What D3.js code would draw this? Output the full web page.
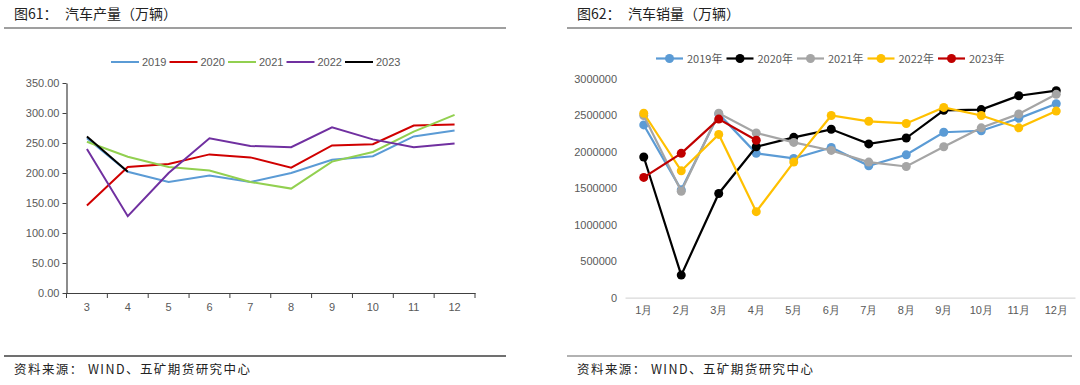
<!DOCTYPE html>
<html>
<head>
<meta charset="utf-8">
<script src="https://cdnjs.cloudflare.com/ajax/libs/d3/7.8.5/d3.min.js"></script>
<style>
  body { margin: 0; background: #fff; }
  svg { display: block; font-family: "Noto Sans CJK SC", "Noto Sans", sans-serif; }
</style>
</head>
<body>
<svg id="chart" width="1080" height="385"></svg>
<script>
// ---- data: production (万辆), months 3-12 ----
const prodMonths = ["3", "4", "5", "6", "7", "8", "9", "10", "11", "12"];
const prodYears = ["2019", "2020", "2021", "2022", "2023"];
const prod2019 = [258, 202, 185, 196, 185, 200, 222, 228, 261, 271];
const prod2020 = [146, 210, 215, 231, 226, 209, 246, 248, 279, 281];
const prod2021 = [252, 227, 210, 204, 185, 174, 219, 235, 269, 297];
const prod2022 = [240, 128, 200, 258, 245, 243, 276, 256, 243, 249];
const prod2023 = [261, 202];
const prodTicks = [0, 50, 100, 150, 200, 250, 300, 350];

// ---- data: sales, months 1-12 ----
const saleMonths = ["1月", "2月", "3月", "4月", "5月", "6月", "7月", "8月", "9月", "10月", "11月", "12月"];
const saleYears = ["2019年", "2020年", "2021年", "2022年", "2023年"];
const sale2019 = [2370000, 1480000, 2520000, 1980000, 1910000, 2060000, 1810000, 1960000, 2270000, 2290000, 2460000, 2660000];
const sale2020 = [1930000, 310000, 1430000, 2070000, 2200000, 2310000, 2110000, 2190000, 2570000, 2580000, 2770000, 2840000];
const sale2021 = [2500000, 1460000, 2530000, 2260000, 2130000, 2020000, 1860000, 1800000, 2070000, 2330000, 2520000, 2790000];
const sale2022 = [2530000, 1740000, 2240000, 1180000, 1860000, 2500000, 2420000, 2390000, 2610000, 2500000, 2330000, 2560000];
const sale2023 = [1650000, 1980000, 2450000, 2160000];
const saleTicks = [0, 500000, 1000000, 1500000, 2000000, 2500000, 3000000];

const prodColors = ["#5b9bd5", "#d00000", "#92d050", "#7030a0", "#000000"];
const saleColors = ["#5b9bd5", "#000000", "#a5a5a5", "#ffc000", "#c00000"];

const svg = d3.select("#chart");

// ---- headers and footers ----
function frame(x0, x1, titleX, label, name, topLineColor, botLineColor) {
    svg.append("text").attr("x", titleX).attr("y", 19)
        .attr("font-size", 14).attr("fill", "#222").text(label);
    svg.append("text").attr("x", titleX + 51).attr("y", 19)
        .attr("font-size", 14).attr("fill", "#222").text(name);
    svg.append("line").attr("x1", x0).attr("x2", x1).attr("y1", 28).attr("y2", 28)
        .attr("stroke", topLineColor).attr("stroke-width", 1.5);
    svg.append("line").attr("x1", x0).attr("x2", x1).attr("y1", 356).attr("y2", 356)
        .attr("stroke", botLineColor).attr("stroke-width", 1.5);
    svg.append("text").attr("x", titleX).attr("y", 374)
        .attr("font-size", 12.5).attr("fill", "#222")
        .attr("textLength", 236).attr("lengthAdjust", "spacing")
        .text("资料来源： WIND、五矿期货研究中心");
}
frame(4, 506, 14, "图61：", "汽车产量（万辆）", "#7f7f7f", "#404040");
frame(567, 1072, 577, "图62：", "汽车销量（万辆）", "#7f7f7f", "#999999");

// ---- left chart: production ----
const xL = d3.scaleBand().domain(prodMonths).range([66.5, 475]);
const yL = d3.scaleLinear().domain([0, 350]).range([293, 83]);

const gL = svg.append("g");
const yAxisL = gL.append("g").attr("transform", "translate(66.5,0)")
    .call(d3.axisLeft(yL).tickValues(prodTicks).tickFormat(d3.format(".2f")).tickSize(4).tickSizeOuter(0));
const xAxisL = gL.append("g").attr("transform", "translate(0,293)")
    .call(d3.axisBottom(xL).tickSize(0).tickPadding(10));
// tick marks at band boundaries
xAxisL.selectAll(".bnd").data(d3.range(prodMonths.length + 1)).enter().append("line")
    .attr("x1", i => 66.5 + i * xL.step()).attr("x2", i => 66.5 + i * xL.step())
    .attr("y1", 0).attr("y2", 5).attr("stroke", "#404040");
[yAxisL, xAxisL].forEach(a => {
    a.select(".domain").attr("stroke", "#404040").attr("stroke-width", 1.2);
    a.selectAll(".tick line").attr("stroke", "#404040");
    a.selectAll("text").attr("fill", "#595959").attr("font-size", 11)
        .attr("font-family", "'Liberation Sans', Arial, sans-serif");
});

const lineL = d3.line().x((d, i) => xL(prodMonths[i]) + xL.bandwidth() / 2).y(d => yL(d));
[prod2019, prod2020, prod2021, prod2022, prod2023].forEach((s, k) => {
    gL.append("path").attr("d", lineL(s)).attr("fill", "none")
        .attr("stroke", prodColors[k]).attr("stroke-width", 2);
});

// legend left
prodYears.forEach((y, k) => {
    const lx = 111 + k * 58.5;
    svg.append("line").attr("x1", lx).attr("x2", lx + 28).attr("y1", 62).attr("y2", 62)
        .attr("stroke", prodColors[k]).attr("stroke-width", 2);
    svg.append("text").attr("x", lx + 31).attr("y", 66).attr("font-size", 11)
        .attr("fill", "#595959").attr("font-family", "'Liberation Sans', Arial, sans-serif").text(y);
});

// ---- right chart: sales ----
const xR = d3.scaleBand().domain(saleMonths).range([625, 1075]);
const yR = d3.scaleLinear().domain([0, 3000000]).range([297.7, 79]);

const gR = svg.append("g");
const yAxisR = gR.append("g").attr("transform", "translate(625,0)")
    .call(d3.axisLeft(yR).tickValues(saleTicks).tickFormat(d3.format("d")).tickSize(0).tickPadding(8));
yAxisR.select(".domain").remove();
const xAxisR = gR.append("g").attr("transform", "translate(0,297.7)")
    .call(d3.axisBottom(xR).tickSize(0).tickPadding(9).tickSizeOuter(0));
xAxisR.select(".domain").attr("stroke", "#d9d9d9").attr("stroke-width", 1.2);
[yAxisR, xAxisR].forEach(a => {
    a.selectAll("text").attr("fill", "#595959").attr("font-size", 11);
});

const lineR = d3.line().x((d, i) => xR(saleMonths[i]) + xR.bandwidth() / 2).y(d => yR(d));
[sale2019, sale2020, sale2021, sale2022, sale2023].forEach((s, k) => {
    gR.append("path").attr("d", lineR(s)).attr("fill", "none")
        .attr("stroke", saleColors[k]).attr("stroke-width", 2.2);
    gR.selectAll(null).data(s).enter().append("circle")
        .attr("cx", (d, i) => xR(saleMonths[i]) + xR.bandwidth() / 2)
        .attr("cy", d => yR(d)).attr("r", 4.5).attr("fill", saleColors[k]);
});

// legend right
saleYears.forEach((y, k) => {
    const lx = 656 + k * 70.5;
    svg.append("line").attr("x1", lx).attr("x2", lx + 27).attr("y1", 58.5).attr("y2", 58.5)
        .attr("stroke", saleColors[k]).attr("stroke-width", 2.2);
    svg.append("circle").attr("cx", lx + 13.5).attr("cy", 58.5).attr("r", 4.5)
        .attr("fill", saleColors[k]);
    svg.append("text").attr("x", lx + 31).attr("y", 62.5).attr("font-size", 11)
        .attr("fill", "#595959").text(y);
});
</script>
</body>
</html>
